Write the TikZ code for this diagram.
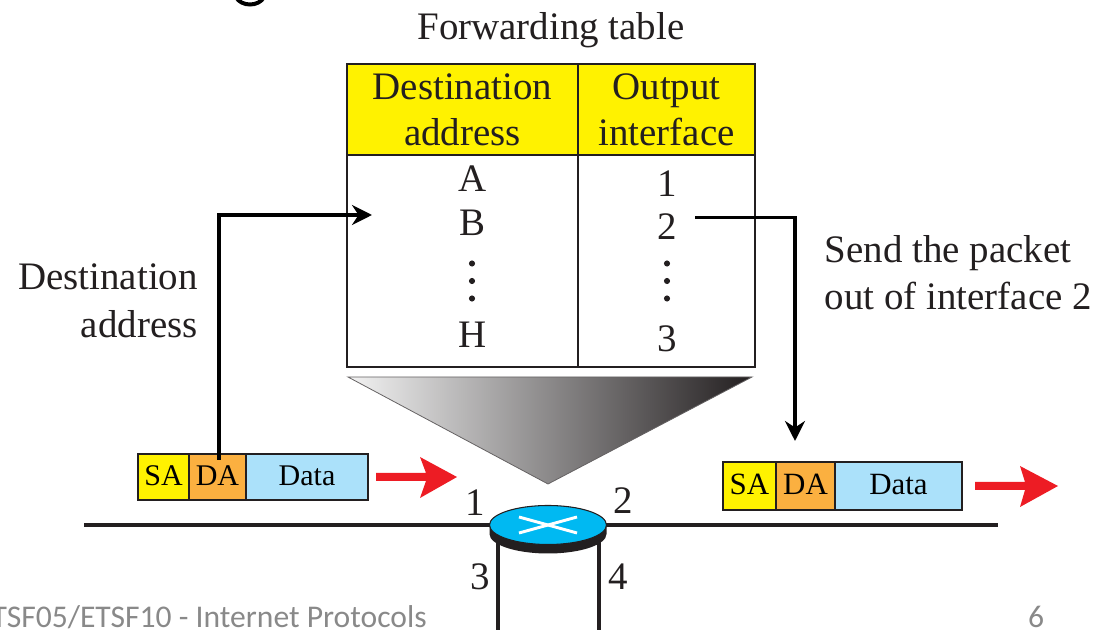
\documentclass[tikz,border=0pt]{standalone}
\usepackage{fontspec}
\setmainfont{Liberation Serif}
\newfontfamily\footfont{Carlito}
\usetikzlibrary{arrows.meta,shapes.geometric}
\definecolor{hdryellow}{HTML}{FFF200}
\definecolor{daorange}{HTML}{FBB040}
\definecolor{datablue}{HTML}{ABE1FA}
\definecolor{routerblue}{HTML}{00B9F2}
\definecolor{ink}{HTML}{231F20}
\definecolor{redarrow}{HTML}{ED1C24}
\definecolor{footgray}{HTML}{898989}
\tikzset{
  lbl/.style={anchor=base,inner sep=0pt,text=ink,font=\fontsize{29.2}{34.5}\selectfont},
  cell/.style={draw=ink,line width=1.9pt,inner sep=0pt,align=center,text=ink,font=\fontsize{29.2}{34.5}\selectfont},
  pkt/.style={draw=ink,line width=1.6pt,inner sep=0pt,anchor=base,text=black},
  pkta/.style={pkt,font=\fontsize{22.5}{26}\selectfont,minimum height=34.5pt,text height=24pt,text depth=10.5pt},
  pktb/.style={pkt,font=\fontsize{23.2}{26}\selectfont,minimum height=36pt,text height=24.75pt,text depth=11.25pt},
  wire/.style={draw=ink,line width=2.7pt},
  conn/.style={draw=black,line width=2.4pt},
  dotm/.style={circle,fill=ink,inner sep=0pt,minimum size=4.6pt},
  foot/.style={inner sep=0pt,anchor=base,text=footgray,font=\footfont\fontsize{23.7}{28}\selectfont},
  redshape/.style={fill=redarrow,draw=none}
}
\begin{document}
\begin{tikzpicture}[x=0.75pt,y=-0.75pt]
\useasboundingbox (0,0) rectangle (1104,630);
% title fragment
\draw[line width=3pt,black] (236,-3) .. controls (241,7) and (259,7) .. (264,-3);
\node[lbl] (title) at (551,40) {Forwarding table};
% table
\node[cell,fill=hdryellow,minimum width=173.25pt,minimum height=68.25pt] (h1) at (462.5,109.5) {Destination\\address};
\node[cell,fill=hdryellow,minimum width=132.75pt,minimum height=68.25pt] (h2) at (666.5,109.5) {Output\\interface};
\node[cell,minimum width=173.25pt,minimum height=159pt] (b1) at (462.5,261) {};
\node[cell,minimum width=132.75pt,minimum height=159pt] (b2) at (666.5,261) {};
\node[lbl] (A) at (472.5,192) {A};
\node[lbl] (B) at (472.5,236) {B};
\node[dotm] (d1) at (472,263.5) {};
\node[dotm] (d2) at (472,281) {};
\node[dotm] (d3) at (472,298.5) {};
\node[lbl] (H) at (472.5,348) {H};
\node[lbl] (n1) at (667,197) {1};
\node[lbl] (n2) at (667,240) {2};
\node[dotm] (e1) at (667,263.5) {};
\node[dotm] (e2) at (667,281) {};
\node[dotm] (e3) at (667,298.5) {};
\node[lbl] (n3) at (667,352) {3};
% funnel
\shade[left color=white!95!black,middle color=black!36,right color=ink,draw=ink!70,line width=0.6pt]
  (348,377) -- (752,377) -- (548,484) -- cycle;
% side labels
\node[lbl,anchor=base east] (dl1) at (198,289.5) {Destination};
\node[lbl,anchor=base east] (dl2) at (198,337.5) {address};
\node[lbl,anchor=base west] (s1) at (824.5,262.5) {Send the packet};
\node[lbl,anchor=base west] (s2) at (824.5,309.5) {out of interface 2};
% wires and router
\coordinate (wl) at (84,525);
\coordinate (wr) at (998,525);
\coordinate (l3) at (498,635);
\coordinate (l4) at (599,635);
\draw[wire] (wl) -- (wr);
\draw[wire] (l3) -- (498,540);
\draw[wire] (l4) -- (599,540);
\fill[ink] (489.5,525) -- (489.5,534) arc[start angle=180,end angle=0,x radius=58.5,y radius=19.5] -- (606.5,525) -- cycle;
\node[draw=ink,line width=0.8pt,fill=routerblue,ellipse,minimum width=87.75pt,minimum height=29.25pt,inner sep=0pt] (router) at (548,525) {};
\draw[white,line width=2.2pt] (519,517) -- (577,533);
\draw[white,line width=2.2pt] (519,533) -- (577,517);
\node[lbl] (p1) at (475,516) {1};
\node[lbl] (p2) at (623,514) {2};
\node[lbl] (p3) at (480,590) {3};
\node[lbl] (p4) at (618,590) {4};
% left packet
\node[pkta,fill=hdryellow,minimum width=38.25pt] (sa1) at (163.5,486) {SA};
\node[pkta,fill=daorange,minimum width=42.75pt] (da1) at (217.5,486) {DA};
\node[pkta,fill=datablue,minimum width=91.5pt] (data1) at (307,486) {Data};
% right packet
\node[pktb,fill=hdryellow,minimum width=39.75pt] (sa2) at (749.5,495) {SA};
\node[pktb,fill=daorange,minimum width=44.25pt] (da2) at (805.5,495) {DA};
\node[pktb,fill=datablue,minimum width=95.25pt] (data2) at (898.5,495) {Data};
% connectors
\coordinate (cs) at (219,460);
\coordinate (ct) at (372,215);
\coordinate (ds) at (695,217.5);
\coordinate (dt) at (795,441);
\draw[conn,-{Stealth[length=15pt,width=15pt]}] (cs) |- (ct);
\draw[conn,-{Stealth[length=15pt,width=15pt]}] (ds) -| (dt);
% red arrows
\fill[redshape] (376,473) -- (426,473) -- (420,457) -- (457,477) -- (420,498) -- (426,481) -- (376,481) -- cycle;
\fill[redshape] (975,482) -- (1025,482) -- (1020,466) -- (1058,486) -- (1020,507) -- (1025,490) -- (975,490) -- cycle;
% footer
\node[foot,anchor=base east] (ft) at (427,628) {ETSF05/ETSF10 - Internet Protocols};
\node[foot] (pg) at (1036,628) {6};
\end{tikzpicture}
\end{document}
